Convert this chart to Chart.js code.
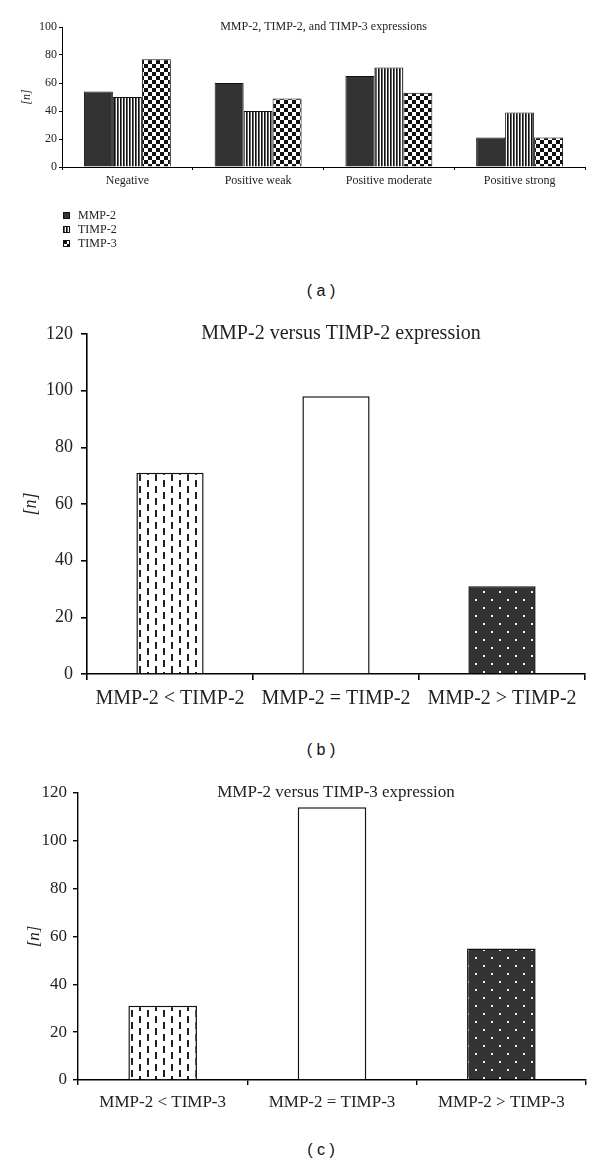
<!DOCTYPE html>
<html>
<head>
<meta charset="utf-8">
<script src="https://cdn.jsdelivr.net/npm/chart.js@4/dist/chart.umd.min.js"></script>
<style>
  html, body { margin: 0; padding: 0; background: #fff; }
  body { position: relative; width: 600px; height: 1163px; overflow: hidden; }
  canvas { position: absolute; left: 0; }
  .cap { position: absolute; left: 271px; width: 100px; text-align: center;
         font: 16px "Liberation Sans", Arial, sans-serif; color: #111; line-height: 20px; }
  #legendA { position: absolute; left: 63px; top: 208px; font: 12px "Liberation Serif", serif; color: #222; }
  #legendA div { height: 14.2px; line-height: 14px; white-space: nowrap; }
  #legendA canvas { position: static; vertical-align: middle; margin-right: 8px; margin-top: -2px; }
</style>
</head>
<body>
<canvas id="chartA" width="600" height="200" style="top:0px"></canvas>
<div id="legendA"></div>
<div class="cap" style="top:281px">( a )</div>

<canvas id="chartB" width="600" height="420" style="top:300px"></canvas>
<div class="cap" style="top:740px">( b )</div>

<canvas id="chartC" width="600" height="360" style="top:770px"></canvas>
<div class="cap" style="top:1140px">( c )</div>

<script>
// ---- data (a) ----
var catA = ['Negative', 'Positive weak', 'Positive moderate', 'Positive strong'];
var mmp2A = [54, 60, 65, 21];
var timp2A = [50, 40, 71, 39];
var timp3A = [77, 49, 53, 21];
var ticksA = [0, 20, 40, 60, 80, 100];

// ---- data (b) ----
var catB = ['MMP-2 < TIMP-2', 'MMP-2 = TIMP-2', 'MMP-2 > TIMP-2'];
var valB = [71, 98, 31];

// ---- data (c) ----
var catC = ['MMP-2 < TIMP-3', 'MMP-2 = TIMP-3', 'MMP-2 > TIMP-3'];
var valC = [31, 114, 55];
var ticksBC = [0, 20, 40, 60, 80, 100, 120];

var SERIF = '"Liberation Serif", "Times New Roman", serif';
var DARK = '#333';

// fill patterns
function tile(w, h, draw) {
    var c = document.createElement('canvas');
    c.width = w; c.height = h;
    draw(c.getContext('2d'));
    return c;
}
var stripeTile = tile(3, 4, function (g) {
    g.fillStyle = '#fff'; g.fillRect(0, 0, 3, 4);
    g.fillStyle = '#111'; g.fillRect(0, 0, 1, 4);
    g.fillStyle = '#666'; g.fillRect(1, 0, 1, 4);
});
var checkTile = tile(8, 8, function (g) {
    g.fillStyle = '#fff'; g.fillRect(0, 0, 8, 8);
    g.fillStyle = '#111'; g.fillRect(0, 0, 4, 4); g.fillRect(4, 4, 4, 4);
});
var dashTile = tile(16, 12, function (g) {
    g.fillStyle = '#fff'; g.fillRect(0, 0, 16, 12);
    g.fillStyle = '#222';
    g.fillRect(3, 0, 2, 7);
    g.fillRect(11, 6, 2, 6); g.fillRect(11, 0, 2, 1);
});
var dotTile = tile(16, 16, function (g) {
    g.fillStyle = DARK; g.fillRect(0, 0, 16, 16);
    g.fillStyle = '#eee';
    g.fillRect(3, 3, 2, 2); g.fillRect(11, 11, 2, 2);
});
var pctx = document.createElement('canvas').getContext('2d');
function pat(t) { return pctx.createPattern(t, 'repeat'); }

// title drawn inside the plot area, at the level of the top tick
var insideTitle = {
    id: 'insideTitle',
    afterDraw: function (chart, args, opts) {
        var ctx = chart.ctx, a = chart.chartArea;
        ctx.save();
        ctx.font = opts.size + 'px ' + SERIF;
        ctx.fillStyle = '#222';
        ctx.textAlign = 'center';
        ctx.textBaseline = 'middle';
        ctx.fillText(opts.text, (a.left + a.right) / 2 + (opts.dx || 0), a.top + (opts.dy || 0));
        ctx.restore();
    }
};
Chart.register(insideTitle);

function makeScales(o) {
    return {
        x: {
            grid: { offset: true, drawOnChartArea: false, color: '#000', tickLength: o.xTick, lineWidth: o.line },
            border: { color: '#000', width: o.line },
            ticks: { color: '#222', font: { family: SERIF, size: o.catSize }, padding: o.xPad, maxRotation: 0, autoSkip: false },
            afterFit: function (s) { s.height = o.xHeight; }
        },
        y: {
            min: 0, max: o.max,
            afterBuildTicks: function (s) { s.ticks = o.ticks.map(function (v) { return { value: v }; }); },
            grid: { drawOnChartArea: false, color: '#000', tickLength: o.yTick, lineWidth: o.line },
            border: { color: '#000', width: o.line },
            ticks: { color: '#222', font: { family: SERIF, size: o.tickSize }, padding: o.yPad },
            title: { display: true, text: '[n]', color: '#222',
                     font: { family: SERIF, size: o.tickSize, style: 'italic' },
                     padding: { top: o.titlePad, bottom: 0 } },
            afterFit: function (s) { s.width = o.yWidth; }
        }
    };
}

function baseOptions(o) {
    return {
        responsive: false,
        animation: false,
        layout: { padding: { top: o.top, right: o.right, left: 0, bottom: 0 } },
        plugins: {
            legend: { display: false },
            tooltip: { enabled: false },
            insideTitle: { text: o.title, size: o.titleSize, dx: o.titleDx }
        },
        scales: makeScales(o)
    };
}

// ---- (a) grouped bars ----
var optA = {
    top: 27, right: 15, yWidth: 62, xHeight: 33, max: 100, ticks: ticksA,
    xTick: 3, xPad: 4, yTick: 3, yPad: 2, line: 1, catSize: 12, tickSize: 12,
    titlePad: 20, title: 'MMP-2, TIMP-2, and TIMP-3 expressions', titleSize: 12, titleDx: 0
};
var dsA = [
    { label: 'MMP-2', data: mmp2A, backgroundColor: DARK },
    { label: 'TIMP-2', data: timp2A, backgroundColor: pat(stripeTile) },
    { label: 'TIMP-3', data: timp3A, backgroundColor: pat(checkTile) }
];
dsA.forEach(function (d) {
    d.borderColor = '#111'; d.borderWidth = 1;
    d.categoryPercentage = 0.665; d.barPercentage = 1.0;
});
var chartA = new Chart(document.getElementById('chartA'), {
    type: 'bar',
    data: { labels: catA, datasets: dsA },
    options: baseOptions(optA)
});

// legend for (a), stacked under the plot
var legendBox = document.getElementById('legendA');
[DARK, stripeTile, checkTile].forEach(function (fill, i) {
    var row = document.createElement('div');
    var sw = document.createElement('canvas');
    sw.width = 7; sw.height = 7;
    var g = sw.getContext('2d');
    g.fillStyle = typeof fill === 'string' ? fill : g.createPattern(fill, 'repeat');
    g.fillRect(0, 0, 7, 7);
    g.strokeStyle = '#111'; g.lineWidth = 1; g.strokeRect(0.5, 0.5, 6, 6);
    row.appendChild(sw);
    row.appendChild(document.createTextNode(dsA[i].label));
    legendBox.appendChild(row);
});

// ---- (b) ----
var optB = {
    top: 34, right: 15, yWidth: 87, xHeight: 46, max: 120, ticks: ticksBC,
    xTick: 6, xPad: 7, yTick: 6, yPad: 8, line: 1.6, catSize: 20, tickSize: 18,
    titlePad: 20, title: 'MMP-2 versus TIMP-2 expression', titleSize: 20, titleDx: 5
};
new Chart(document.getElementById('chartB'), {
    type: 'bar',
    data: {
        labels: catB,
        datasets: [{
            label: 'MMP-2 versus TIMP-2', data: valB,
            backgroundColor: [pat(dashTile), '#fff', pat(dotTile)],
            borderColor: '#111', borderWidth: 1.5,
            categoryPercentage: 0.405, barPercentage: 1.0
        }]
    },
    options: baseOptions(optB)
});

// ---- (c) ----
var optC = {
    top: 23, right: 14, yWidth: 78, xHeight: 50, max: 120, ticks: ticksBC,
    xTick: 5, xPad: 7, yTick: 5, yPad: 6, line: 1.4, catSize: 17, tickSize: 17,
    titlePad: 24, title: 'MMP-2 versus TIMP-3 expression', titleSize: 17, titleDx: 4
};
new Chart(document.getElementById('chartC'), {
    type: 'bar',
    data: {
        labels: catC,
        datasets: [{
            label: 'MMP-2 versus TIMP-3', data: valC,
            backgroundColor: [pat(dashTile), '#fff', pat(dotTile)],
            borderColor: '#111', borderWidth: 1.5,
            categoryPercentage: 0.405, barPercentage: 1.0
        }]
    },
    options: baseOptions(optC)
});
</script>
</body>
</html>
